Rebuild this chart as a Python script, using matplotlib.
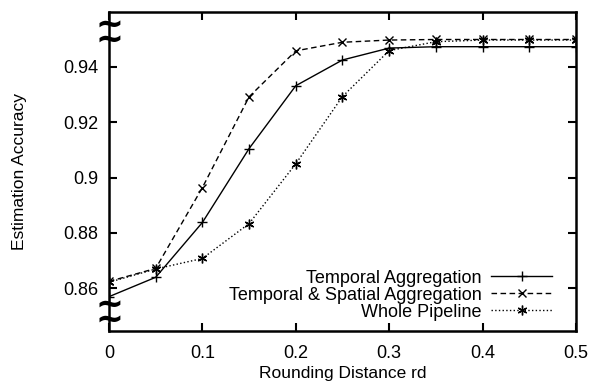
import matplotlib
matplotlib.use("Agg")
import matplotlib.pyplot as plt

# rounding distance values
rd = [0.0, 0.05, 0.1, 0.15, 0.2, 0.25, 0.3, 0.35, 0.4, 0.45, 0.5]

temporal = [0.857, 0.864, 0.8838, 0.9105, 0.9332, 0.9425, 0.9468,
            0.9473, 0.9473, 0.9473, 0.9473]
temporal_spatial = [0.8625, 0.8672, 0.8964, 0.9292, 0.9458, 0.9489, 0.9497,
                    0.9499, 0.9499, 0.9499, 0.9499]
whole_pipeline = [0.8622, 0.867, 0.8708, 0.8834, 0.905, 0.9293, 0.9459,
                  0.9491, 0.9497, 0.9497, 0.9497]

labels = ["Temporal Aggregation", "Temporal & Spatial Aggregation",
          "Whole Pipeline"]
xticks = [0, 0.1, 0.2, 0.3, 0.4, 0.5]
xticklabels = ["0", "0.1", "0.2", "0.3", "0.4", "0.5"]
yticks = [0.86, 0.88, 0.9, 0.92, 0.94]
yticklabels = ["0.86", "0.88", "0.9", "0.92", "0.94"]

plt.rcParams["font.family"] = ["Liberation Sans", "DejaVu Sans"]

fig = plt.figure(figsize=(5.93, 3.9), dpi=100)
ax = fig.add_axes([0.1838, 0.1513, 0.7875, 0.8177])

ax.plot(rd, temporal, "k-", marker="+", ms=7, mew=1, lw=1, label=labels[0])
ax.plot(rd, temporal_spatial, "k--", marker="x", ms=6, mew=1, lw=1,
        dashes=(4, 2.5), label=labels[1])
ax.plot(rd, whole_pipeline, "k:", marker=(6, 2, 0), ms=7, mew=1, lw=1,
        label=labels[2])

ax.set_xlim(0, 0.5)
ax.set_ylim(0.8446, 0.9598)
ax.set_xticks(xticks)
ax.set_xticklabels(xticklabels)
ax.set_yticks(yticks)
ax.set_yticklabels(yticklabels)
ax.tick_params(direction="in", length=6, width=1.5, top=True, right=True,
               labelsize=13, pad=8)
ax.tick_params(axis="x", pad=10)
for s in ax.spines.values():
    s.set_linewidth(1.8)

ax.set_xlabel("Rounding Distance rd", fontsize=12.5, labelpad=3)
ax.set_ylabel("Estimation Accuracy", fontsize=12.5, labelpad=26)

# axis break marks on the left spine (two stacked tildes each)
for yb in (0.935, 0.058):
    ax.text(0, yb, "~\n~", transform=ax.transAxes, linespacing=0.33,
            fontsize=24, fontweight="bold", ha="center", va="center",
            clip_on=False, family="DejaVu Sans")

ax.legend(loc="lower right", bbox_to_anchor=(0.965, 0.01), frameon=False,
          markerfirst=False, fontsize=13, handlelength=3.4,
          labelspacing=0.0, handletextpad=0.5, borderaxespad=0)

fig.savefig("out.png", dpi=100)
